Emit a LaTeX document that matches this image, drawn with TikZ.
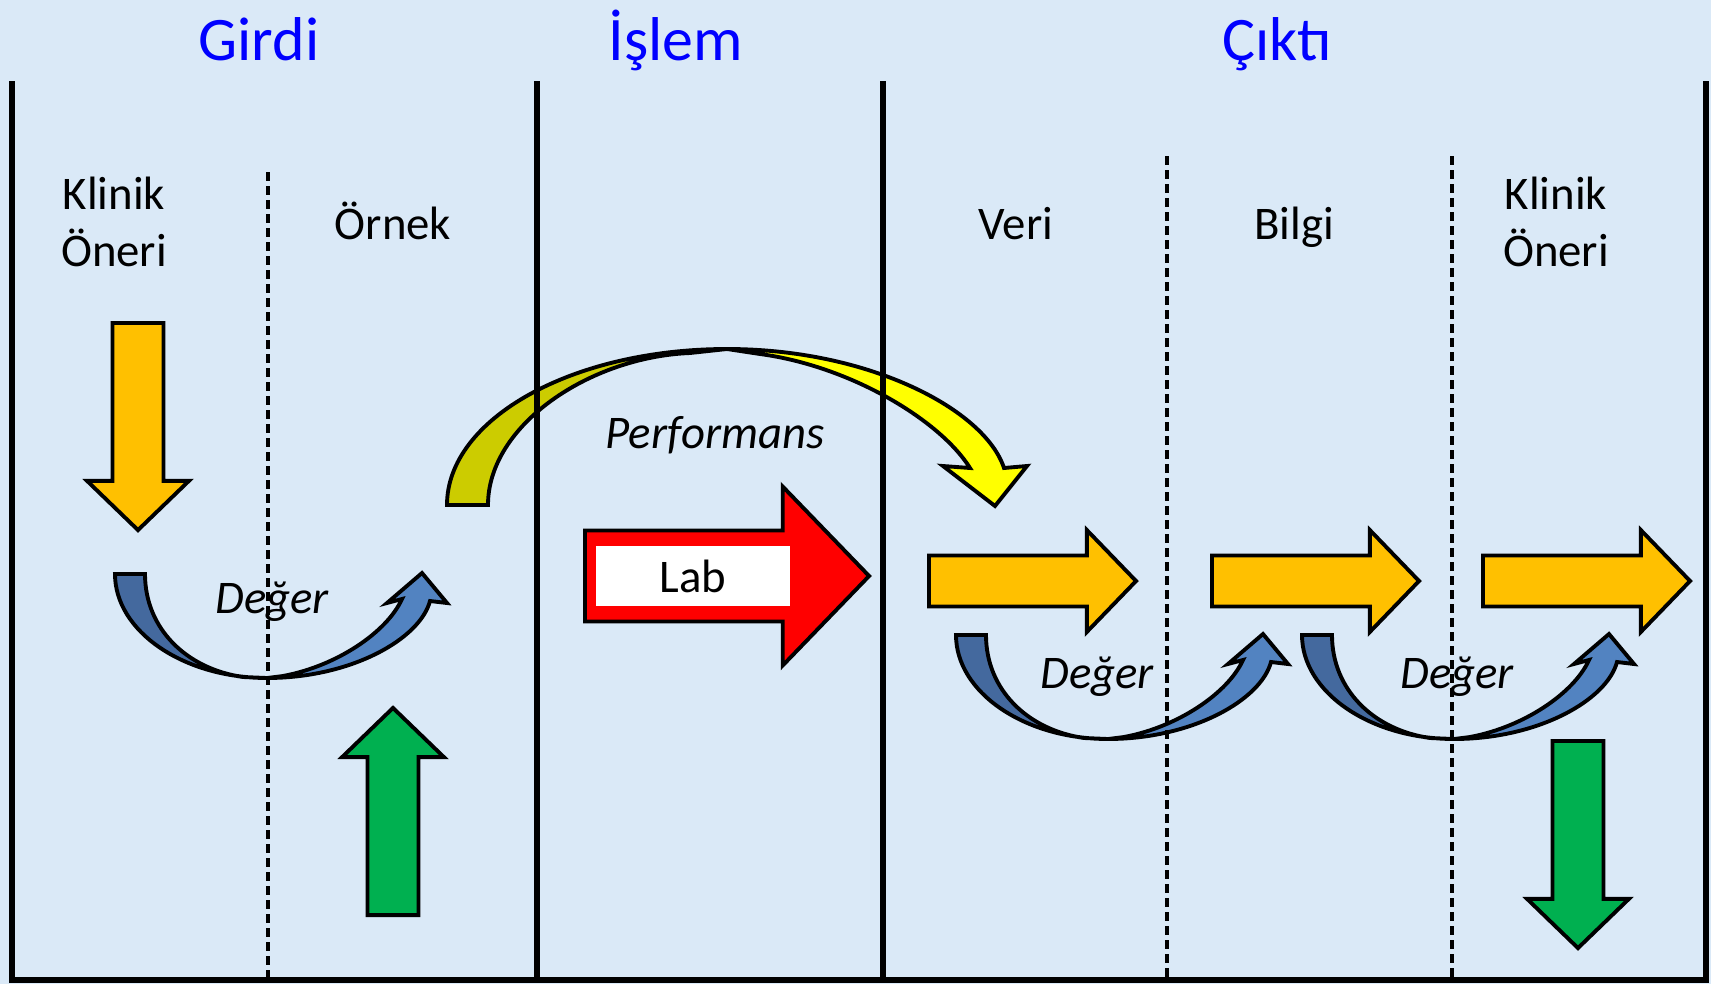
\documentclass[tikz,border=0pt]{standalone}
\usepackage{fontspec}
\setmainfont{Carlito}
\usetikzlibrary{shapes.arrows}
\definecolor{Bg}{RGB}{218,233,247}
\definecolor{Tc}{HTML}{0000FF}
\definecolor{Oc}{HTML}{FFC000}
\definecolor{Gc}{HTML}{00B050}
\definecolor{Rc}{HTML}{FF0000}
\definecolor{Yc}{HTML}{FFFF00}
\definecolor{Yd}{HTML}{CCCC00}
\definecolor{Bd}{HTML}{44699E}
\definecolor{Bl}{HTML}{5283C1}

\tikzset{
  degerarrow/.pic={
    \filldraw[band, fill=Bd] (0,0) -- (30,0) .. controls (30,55) and (72,95) .. (128,103)
      -- (152,104) .. controls (68,104) and (0,57) .. (0,0) -- cycle;
    \filldraw[band, fill=Bl] (152,104) .. controls (236,104) and (305,65) .. (315,27)
      -- (332,29) -- (307,-1) -- (272,29) -- (287,25)
      .. controls (272,58) and (222,92) .. (168,102) -- cycle;
  }
}

\begin{document}
\begin{tikzpicture}[x=0.01cm, y=-0.01cm,
    band/.style={draw=black, line width=1.1pt, line join=miter},
    sepline/.style={line width=1.6pt},
    subline/.style={line width=1pt, dash pattern=on 0.09cm off 0.05cm},
    head/.style={anchor=base, text=Tc, font=\fontsize{17.6}{21}\selectfont},
    lbl/.style={align=center, inner sep=0pt, font=\fontsize{13.3}{16.2}\selectfont},
    deger/.style={anchor=base, inner sep=0pt, font=\fontsize{13.3}{16.2}\selectfont\itshape},
    blockarrow/.style={single arrow, draw, line width=1.1pt, anchor=tail,
      minimum height=2.07cm, inner xsep=0pt, inner ysep=0.235cm,
      single arrow head extend=0.255cm, single arrow tip angle=92},
    labarrow/.style={blockarrow, fill=Rc, minimum height=2.84cm,
      inner ysep=0.435cm, single arrow head extend=0.44cm}]
  \fill[Bg] (0,0) rectangle (1711,984);
  \useasboundingbox (0,0) rectangle (1711,984);

  % column titles
  \node[head] (girdi) at (259,60) {Girdi};
  \node[head] (islem) at (676,60) {İşlem};
  \node[head] (cikti) at (1277,60) {Çıktı};

  \node[lbl] (oneri1) at (114,222) {Klinik\\Öneri};
  \node[lbl, anchor=base] (ornek) at (393,239) {Örnek};
  \node[lbl, anchor=base] (veri) at (1016,239) {Veri};
  \node[lbl, anchor=base] (bilgi) at (1294,239) {Bilgi};
  \node[lbl] (oneri2) at (1556,222) {Klinik\\Öneri};

  % block arrows
  \node[blockarrow, fill=Oc, rotate=-90] (in1) at (138,321) {};
  \node[blockarrow, fill=Gc, rotate=90] (in2) at (393,917) {};
  \node[labarrow] (proc) at (583,576) {};
  \node[lbl, fill=white, minimum width=1.93cm, minimum height=0.6cm] (lab) at (693,576) {Lab};
  \node[blockarrow, fill=Oc] (out1) at (927,581) {};
  \node[blockarrow, fill=Oc] (out2) at (1210,581) {};
  \node[blockarrow, fill=Oc] (out3) at (1481,581) {};
  \node[blockarrow, fill=Gc, rotate=-90] (out4) at (1578,739) {};

  % curved arrows
  \pic at (115,574) {degerarrow};
  \pic at (956,635) {degerarrow};
  \pic at (1302,635) {degerarrow};
  \node[deger] (d1) at (272,613) {Değer};
  \node[deger] (d2) at (1097,688) {Değer};
  \node[deger] (d3) at (1457,688) {Değer};

  \filldraw[band, fill=Yd] (447,505) -- (488,505) .. controls (488,425) and (590,357) .. (690,353)
    -- (727,349) .. controls (572,349) and (447,419) .. (447,505) -- cycle;
  \filldraw[band, fill=Yc] (727,349) .. controls (870,349) and (985,410) .. (1004,468)
    -- (1027,466) -- (995,506) -- (943,466) -- (970,468)
    .. controls (940,420) and (850,366) .. (760,354) -- cycle;
  \node[deger] (perf) at (715,448) {Performans};

  % column lines
  \draw[sepline] (12,81) -- (12,980) -- (1706,980) -- (1706,81);
  \draw[sepline] (537,81) -- (537,980);
  \draw[sepline] (883,81) -- (883,980);
  \draw[subline] (268,172) -- (268,980);
  \draw[subline] (1167,156) -- (1167,980);
  \draw[subline] (1452,156) -- (1452,980);
\end{tikzpicture}
\end{document}
